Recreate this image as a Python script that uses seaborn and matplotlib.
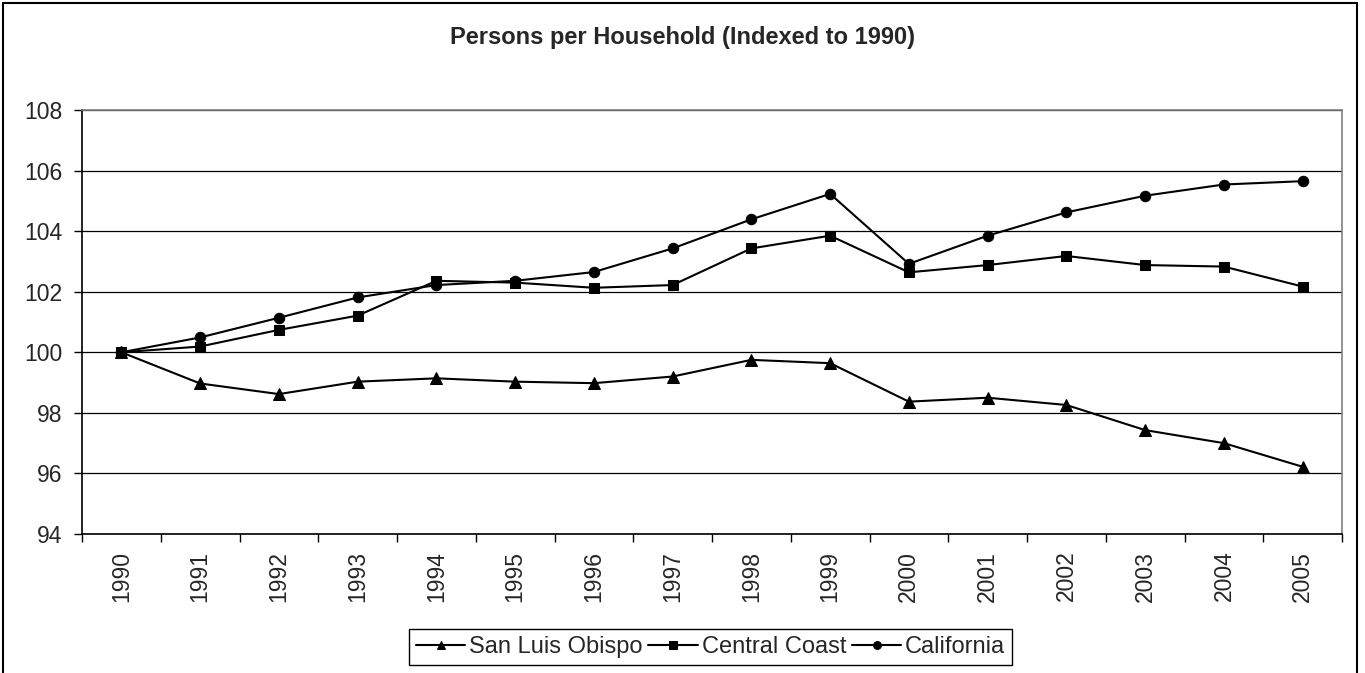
import numpy as np
import pandas as pd
import seaborn as sns
import matplotlib
matplotlib.use('agg')
import matplotlib.pyplot as plt
from matplotlib.patches import Rectangle

# data
years = ['1990', '1991', '1992', '1993', '1994', '1995', '1996', '1997',
         '1998', '1999', '2000', '2001', '2002', '2003', '2004', '2005']
san_luis_obispo = [100.0, 98.97, 98.62, 99.03, 99.14, 99.03, 98.98, 99.20,
                   99.75, 99.64, 98.37, 98.50, 98.26, 97.43, 97.00, 96.22]
central_coast = [100.0, 100.19, 100.74, 101.21, 102.36, 102.30, 102.13, 102.22,
                 103.43, 103.85, 102.64, 102.88, 103.18, 102.88, 102.83, 102.17]
california = [100.0, 100.49, 101.14, 101.81, 102.22, 102.36, 102.65, 103.43,
              104.39, 105.23, 102.92, 103.85, 104.62, 105.17, 105.54, 105.65]
y_ticks = [94, 96, 98, 100, 102, 104, 106, 108]

sns.set_theme(style='white')
plt.rcParams['font.family'] = ['Liberation Sans', 'DejaVu Sans']

W, H = 1365, 673
fig = plt.figure(figsize=(W / 100, H / 100), dpi=100)
ax = fig.add_axes([82 / W, 1 - 534 / H, (1342 - 82) / W, (534 - 110) / H])

pos = np.arange(len(years))
series = [('San Luis Obispo', san_luis_obispo, '^', 8.5),
          ('Central Coast', central_coast, 's', 7.2),
          ('California', california, 'o', 7.5)]
for name, vals, mk, ms in series:
    sns.lineplot(x=pos, y=vals, ax=ax, color='black', marker=mk, markersize=ms,
                 markeredgecolor='black', linewidth=1.5, label=name)

ax.set_xlim(-0.5, len(years) - 0.5)
ax.set_ylim(94, 108)
ax.set_yticks(y_ticks)
ax.set_yticklabels([str(v) for v in y_ticks], fontsize=16.5)
ax.set_xticks(pos)
ax.set_xticklabels(years, rotation=90, fontsize=16.5)
ax.set_xticks(np.arange(-0.5, len(years), 1), minor=True)
ax.tick_params(axis='x', which='major', length=0, pad=12)
ax.tick_params(axis='x', which='minor', bottom=True, direction='out', length=6, width=1, color='black')
ax.tick_params(axis='y', left=True, direction='out', length=6, width=1, color='black', pad=8)
ax.set_xlabel('')
ax.set_ylabel('')

ax.grid(False)
ax.yaxis.grid(True, color='black', linewidth=0.9)
ax.set_axisbelow(True)
for side in ['top', 'right']:
    ax.spines[side].set_color('#808080')
    ax.spines[side].set_linewidth(1.2)
for side in ['left', 'bottom']:
    ax.spines[side].set_color('black')
    ax.spines[side].set_linewidth(1.2)

ax.get_legend().remove()
handles, labels = ax.get_legend_handles_labels()
leg = fig.legend(handles, labels, loc='center', ncol=3,
                 bbox_to_anchor=(710.5 / W, 1 - 647 / H), bbox_transform=fig.transFigure,
                 fontsize=17, frameon=True, fancybox=False, edgecolor='black', framealpha=1,
                 handlelength=2.1, handletextpad=0.15, columnspacing=0.25, borderpad=0.3,
                 markerscale=0.75)
leg.get_frame().set_linewidth(1.0)

fig.text(0.5, 1 - 44 / H, 'Persons per Household (Indexed to 1990)', ha='center', va='baseline',
         fontsize=17, fontweight='bold')

fig.add_artist(Rectangle((3 / W, -0.05), (1357 - 3) / W, 1.05 - 3 / H, transform=fig.transFigure,
                         fill=False, edgecolor='black', linewidth=1.5, clip_on=False))

plt.savefig('out.png', dpi=100)
